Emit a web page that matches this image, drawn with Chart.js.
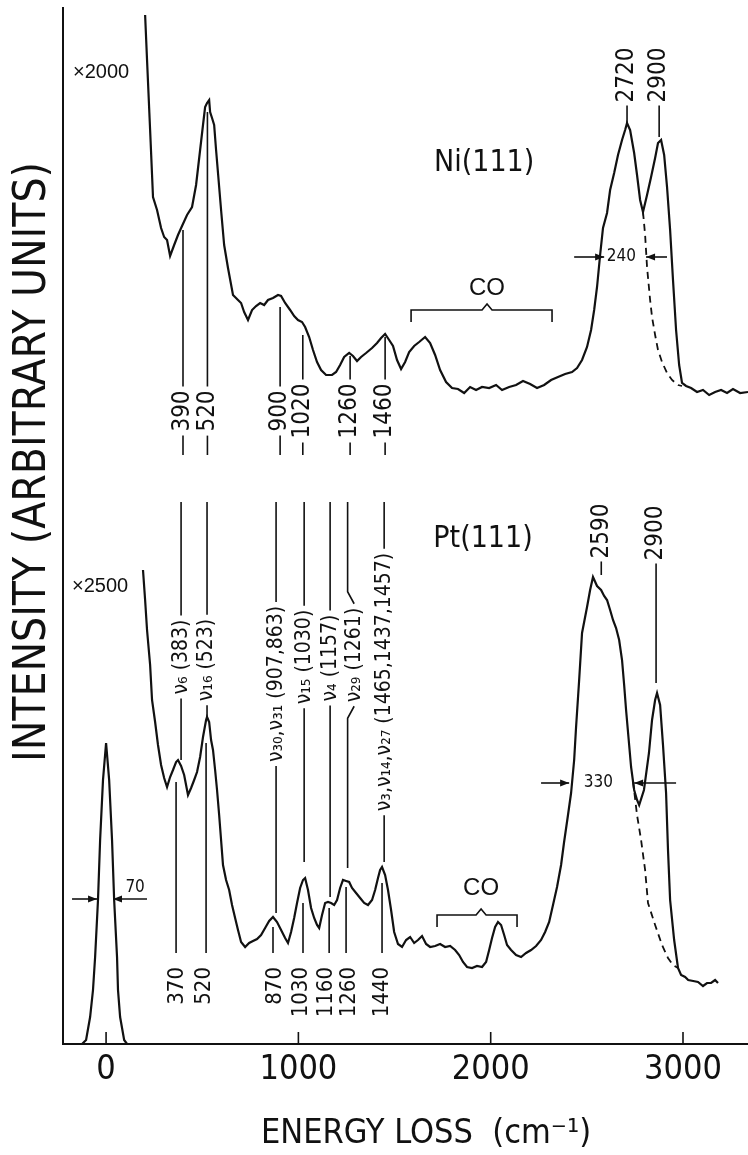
<!DOCTYPE html>
<html>
<head>
<meta charset="utf-8">
<title>EELS Ni(111) / Pt(111)</title>
<script src="https://cdn.jsdelivr.net/npm/chart.js@4.4.1/dist/chart.umd.min.js"></script>
<style>
  html, body { margin: 0; padding: 0; background: #fff; }
  #wrap { width: 748px; height: 1155px; }
</style>
</head>
<body>
<div id="wrap"><canvas id="eels_canvas"></canvas></div>
<script>
// energy loss (cm-1) / intensity (arbitrary units)
const xTicks = [0, 1000, 2000, 3000];

const niEnergy = [
  203, 213, 229, 244, 265, 286, 302, 317, 333, 354,
  374, 395, 421, 447, 468, 489, 504, 515, 525, 536,
  541, 551, 562, 572, 582, 598, 614, 634, 660, 686,
  702, 718, 738, 759, 780, 801, 822, 842, 868, 894,
  910, 931, 957, 978, 998, 1019, 1035, 1056, 1076, 1097,
  1118, 1144, 1175, 1196, 1217, 1238, 1264, 1284, 1305, 1326,
  1352, 1383, 1409, 1430, 1451, 1472, 1492, 1513, 1534, 1555,
  1576, 1602, 1628, 1659, 1685, 1711, 1737, 1768, 1799, 1830,
  1862, 1893, 1924, 1955, 1992, 2028, 2059, 2096, 2132, 2168,
  2205, 2241, 2278, 2314, 2350, 2387, 2423, 2449, 2475, 2501,
  2522, 2538, 2553, 2569, 2584, 2605, 2621, 2642, 2662, 2683,
  2699, 2709, 2725, 2746, 2761, 2777, 2792, 2813, 2834, 2855,
  2870, 2886, 2902, 2917, 2933, 2948, 2964, 2980, 2995, 3016,
  3042, 3073, 3104, 3136, 3167, 3198, 3229, 3260, 3297, 3338
];
const niIntensity = [
  1029, 984, 914, 847, 834, 816, 807, 804, 788, 799,
  809, 818, 829, 837, 859, 894, 919, 937, 941, 944,
  932, 926, 919, 894, 871, 834, 799, 776, 749, 744,
  741, 732, 724, 734, 738, 741, 739, 744, 746, 749,
  748, 741, 734, 728, 724, 722, 717, 707, 694, 682,
  674, 669, 669, 672, 679, 687, 691, 688, 683, 687,
  691, 696, 701, 706, 710, 704, 698, 684, 675, 682,
  692, 698, 702, 707, 701, 689, 674, 662, 656, 655,
  651, 657, 654, 657, 656, 659, 654, 657, 659, 663,
  660, 656, 659, 664, 667, 670, 672, 676, 684, 697,
  714, 734, 757, 789, 816, 831, 854, 871, 889, 904,
  914, 921, 914, 891, 869, 844, 832, 849, 867, 886,
  901, 904, 889, 857, 814, 764, 714, 679, 661, 658,
  656, 652, 654, 649, 652, 654, 651, 655, 651, 652
];
// dashed extrapolation under the Ni CH stretch band
const niFitEnergy = [2792, 2803, 2813, 2829, 2839, 2855, 2870, 2891, 2917, 2943, 2974, 2995];
const niFitIntensity = [832, 809, 777, 744, 727, 709, 694, 682, 671, 664, 659, 658];

const ptEnergy = [
  192, 203, 213, 229, 239, 255, 270, 286, 302, 317,
  333, 348, 364, 374, 390, 406, 426, 442, 458, 473,
  489, 504, 520, 525, 536, 546, 556, 567, 577, 588,
  598, 608, 624, 640, 655, 671, 686, 702, 723, 744,
  764, 785, 806, 827, 848, 868, 889, 910, 931, 946,
  962, 978, 993, 1009, 1024, 1035, 1050, 1066, 1082, 1097,
  1108, 1123, 1139, 1154, 1170, 1186, 1201, 1217, 1232, 1248,
  1264, 1279, 1300, 1321, 1342, 1362, 1383, 1399, 1414, 1425,
  1435, 1451, 1466, 1482, 1498, 1518, 1539, 1560, 1581, 1602,
  1622, 1643, 1664, 1685, 1711, 1737, 1763, 1789, 1815, 1836,
  1856, 1877, 1903, 1929, 1955, 1976, 1992, 2007, 2023, 2038,
  2054, 2070, 2085, 2106, 2132, 2158, 2184, 2210, 2236, 2262,
  2283, 2304, 2324, 2345, 2366, 2381, 2402, 2418, 2434, 2444,
  2460, 2475, 2501, 2517, 2532, 2553, 2574, 2590, 2605, 2621,
  2636, 2652, 2668, 2683, 2694, 2704, 2720, 2730, 2746, 2761,
  2772, 2797, 2823, 2839, 2855, 2865, 2881, 2896, 2912, 2922,
  2933, 2954, 2974, 2990, 3011, 3027, 3053, 3078, 3104, 3125,
  3146, 3167, 3182
];
const ptIntensity = [
  474, 444, 414, 379, 344, 322, 299, 279, 266, 257,
  267, 274, 282, 284, 278, 269, 249, 256, 264, 272,
  287, 307, 324, 327, 322, 304, 294, 274, 254, 229,
  204, 179, 164, 154, 139, 126, 114, 102, 97, 101,
  103, 105, 109, 116, 123, 127, 122, 114, 106, 101,
  112, 126, 141, 156, 164, 166, 154, 136, 126, 119,
  116, 129, 141, 142, 141, 139, 144, 156, 164, 163,
  162, 156, 151, 146, 141, 139, 144, 154, 166, 174,
  177, 169, 154, 134, 112, 100, 97, 104, 107, 101,
  104, 108, 100, 97, 98, 100, 97, 98, 94, 89,
  82, 77, 76, 78, 77, 82, 94, 106, 117, 122,
  119, 109, 99, 94, 89, 87, 91, 94, 98, 104,
  112, 122, 139, 157, 179, 201, 229, 251, 284, 317,
  364, 411, 437, 454, 467, 458, 454, 448, 444, 434,
  424, 416, 404, 384, 359, 334, 299, 277, 254, 244,
  239, 254, 291, 324, 344, 351, 339, 299, 251, 194,
  144, 104, 76, 69, 67, 64, 63, 62, 58, 61,
  61, 64, 61
];
const ptFitEnergy = [2740, 2761, 2782, 2803, 2818, 2855, 2891, 2922, 2948, 2974];
const ptFitIntensity = [263, 229, 204, 174, 141, 119, 99, 86, 79, 76];

// elastic peak
const elasticEnergy = [-125, -104, -83, -68, -57, -42, -31, -16, 0, 16, 31, 42, 57, 62, 73, 94, 109];
const elasticIntensity = [0, 4, 27, 54, 87, 144, 204, 264, 301, 264, 204, 144, 87, 54, 27, 4, 0];

// peak labels, Ni(111)
const niLabels = ['390', '520', '900', '1020', '1260', '1460'];
const niLabelEnergy = [400, 527, 905, 1023, 1269, 1451];
const niLabelTop = [814, 932, 737, 709, 688, 707];

// peak labels, Pt(111), under the curve
const ptLabels = ['370', '520', '870', '1030', '1160', '1260', '1440'];
const ptLabelEnergy = [364, 520, 868, 1024, 1160, 1248, 1435];
const ptLabelTextEnergy = [369, 512, 879, 1016, 1146, 1264, 1435];
const ptLabelTop = [262, 301, 117, 141, 136, 157, 161];

// mode assignments, Pt(111)
const ptModes = ['ν₆ (383)', 'ν₁₆ (523)', 'ν₃₀,ν₃₁ (907,863)', 'ν₁₅ (1030)', 'ν₄ (1157)', 'ν₂₉ (1261)', 'ν₃,ν₁₄,ν₂₇ (1465,1437,1457)'];
const ptModeEnergy = [390, 525, 884, 1030, 1165, 1290, 1446];
const ptModeLineEnergy = [390, 525, 884, 1030, 1165, 1256, 1446];
const ptModeTextY = [387, 384, 360, 387, 386, 389, 362];
const ptModeBottom = [284, 327, 131, 182, 147, 176, 182];

// CH stretch labels
const chLabels = ['2720', '2900', '2590', '2900'];
const chEnergy = [2709, 2876, 2575, 2860];
const chTextY = [969, 969, 513, 511];
const chLineEnd = [921, 907, 469, 361];

const INK = '#111';
const WIDE = '"DejaVu Sans Condensed", "DejaVu Sans", sans-serif';
const NARROW = '"Liberation Sans Narrow", "DejaVu Sans Condensed", "Liberation Sans", sans-serif';
const REG = '"Liberation Sans", "DejaVu Sans", sans-serif';

function pts(xs, ys) {
  return xs.map((x, i) => ({ x: x, y: ys[i] }));
}

function trace(label, xs, ys, dash) {
  return {
    label: label,
    data: pts(xs, ys),
    borderColor: INK,
    borderWidth: dash ? 1.8 : 2.2,
    borderDash: dash ? [7, 5] : [],
    pointRadius: 0,
    tension: 0,
    fill: false
  };
}

// labels, arrows, brackets and titles drawn on top of the scales
const annotate = {
  id: 'annotate',
  afterDraw(chart) {
    const ctx = chart.ctx;
    const X = v => chart.scales.x.getPixelForValue(v);
    const Y = v => chart.scales.y.getPixelForValue(v);

    const seg = p => {
      ctx.beginPath();
      ctx.moveTo(p[0][0], p[0][1]);
      for (let i = 1; i < p.length; i++) ctx.lineTo(p[i][0], p[i][1]);
      ctx.stroke();
    };
    const vtext = (t, x, y) => {
      ctx.save();
      ctx.translate(x, y);
      ctx.rotate(-Math.PI / 2);
      ctx.textAlign = 'center';
      ctx.textBaseline = 'middle';
      ctx.fillText(t, 0, 0);
      ctx.restore();
    };
    const htext = (t, x, y, align) => {
      ctx.textAlign = align || 'center';
      ctx.textBaseline = 'middle';
      ctx.fillText(t, x, y);
    };
    const arrow = (x0, x1, y) => {
      seg([[x0, y], [x1, y]]);
      const d = Math.sign(x1 - x0);
      ctx.beginPath();
      ctx.moveTo(x1, y);
      ctx.lineTo(x1 - d * 9, y - 3.5);
      ctx.lineTo(x1 - d * 9, y + 3.5);
      ctx.closePath();
      ctx.fill();
    };

    ctx.save();
    ctx.strokeStyle = INK;
    ctx.fillStyle = INK;
    ctx.lineWidth = 1.6;

    // tick marks point inwards
    xTicks.forEach(v => seg([[X(v), Y(0)], [X(v), Y(0) - 12]]));

    // Ni(111) peak labels with dash below
    ctx.font = '24px ' + NARROW;
    niLabels.forEach((t, i) => {
      const x = X(niLabelEnergy[i]);
      const w = ctx.measureText(t).width;
      const cy = Y(633);
      seg([[x, Y(niLabelTop[i])], [x, cy - w / 2 - 4]]);
      seg([[x, cy + w / 2 + 4], [x, Y(589)]]);
      vtext(t, x, cy);
    });

    // CH stretch labels
    chLabels.forEach((t, i) => {
      const x = X(chEnergy[i]);
      const w = ctx.measureText(t).width;
      const cy = Y(chTextY[i]);
      seg([[x, cy + w / 2 + 3], [x, Y(chLineEnd[i])]]);
      vtext(t, x, cy);
    });

    // Pt(111) peak labels below the curve
    ctx.font = '22px ' + NARROW;
    ptLabels.forEach((t, i) => {
      const w = ctx.measureText(t).width;
      seg([[X(ptLabelEnergy[i]), Y(ptLabelTop[i])], [X(ptLabelEnergy[i]), Y(91)]]);
      vtext(t, X(ptLabelTextEnergy[i]), Y(77) + w / 2);
    });

    // mode assignments
    ctx.font = '21px ' + NARROW;
    ptModes.forEach((t, i) => {
      const tx = X(ptModeEnergy[i]);
      const lx = X(ptModeLineEnergy[i]);
      const w = ctx.measureText(t).width;
      const cy = Y(ptModeTextY[i]);
      const a = cy - w / 2 - 4;
      const b = cy + w / 2 + 4;
      const bend = tx === lx ? 0 : 12;
      seg([[lx, Y(542)], [lx, a - bend], [tx, a]]);
      seg([[tx, b], [lx, b + bend], [lx, Y(ptModeBottom[i])]]);
      vtext(t, tx, cy);
    });

    // FWHM markers
    ctx.font = '17px ' + NARROW;
    arrow(X(2434), X(2590), Y(787));
    arrow(X(2917), X(2808), Y(787));
    htext('240', X(2680), Y(787));
    arrow(X(2262), X(2408), Y(261));
    arrow(X(2964), X(2746), Y(261));
    htext('330', X(2560), Y(261));
    arrow(X(-177), X(-47), Y(145));
    arrow(X(213), X(36), Y(145));
    htext('70', X(151), Y(156));

    // CO brackets
    ctx.font = '24px ' + REG;
    [[1586, 2319, 1981, 734, 756], [1721, 2137, 1950, 129, 156]].forEach(b => {
      const y = Y(b[3]);
      const xm = X(b[2]);
      seg([[X(b[0]), y + 12], [X(b[0]), y], [xm - 5, y], [xm, y - 6], [xm + 5, y], [X(b[1]), y], [X(b[1]), y + 12]]);
      htext('CO', xm, Y(b[4]));
    });

    // surface and scale factors
    ctx.font = '30px ' + NARROW;
    htext('Ni(111)', X(1966), Y(881));
    htext('Pt(111)', X(1960), Y(505));
    ctx.font = '20px ' + REG;
    ctx.textAlign = 'left';
    ctx.textBaseline = 'alphabetic';
    ctx.fillText('×2000', X(-172), Y(966));
    ctx.fillText('×2500', X(-177), Y(452));

    // axis titles
    ctx.font = '44px ' + WIDE;
    vtext('INTENSITY (ARBITRARY UNITS)', chart.scales.y.left + 34, Y(582));
    ctx.font = '34px ' + WIDE;
    htext('ENERGY LOSS  (cm⁻¹)', X(1664), chart.height - 21);

    ctx.restore();
  }
};

const ctx = document.getElementById('eels_canvas');

const eelsChart = new Chart(ctx, {
  type: 'line',
  data: {
    datasets: [
      trace('Ni(111)', niEnergy, niIntensity, false),
      trace('Ni(111) fit', niFitEnergy, niFitIntensity, true),
      trace('Pt(111)', ptEnergy, ptIntensity, false),
      trace('Pt(111) fit', ptFitEnergy, ptFitIntensity, true),
      trace('elastic', elasticEnergy, elasticIntensity, false)
    ]
  },
  options: {
    responsive: true,
    maintainAspectRatio: false,
    animation: false,
    layout: { padding: { top: 8, right: 0, bottom: 0, left: 0 } },
    plugins: {
      legend: { display: false },
      tooltip: { enabled: false }
    },
    scales: {
      x: {
        type: 'linear',
        min: -224,
        max: 3338,
        afterBuildTicks: s => { s.ticks = xTicks.map(v => ({ value: v })); },
        afterFit: s => { s.height = 111; },
        grid: { display: false, drawTicks: false },
        border: { display: true, color: INK, width: 2 },
        ticks: {
          color: INK,
          padding: 6,
          maxRotation: 0,
          autoSkip: false,
          font: { family: WIDE, size: 34 },
          callback: v => String(v)
        }
      },
      y: {
        type: 'linear',
        min: 0,
        max: 1036,
        afterFit: s => { s.width = 63; },
        grid: { display: false, drawTicks: false },
        border: { display: true, color: INK, width: 2 },
        ticks: { display: false }
      }
    }
  },
  plugins: [annotate]
});
</script>
</body>
</html>
